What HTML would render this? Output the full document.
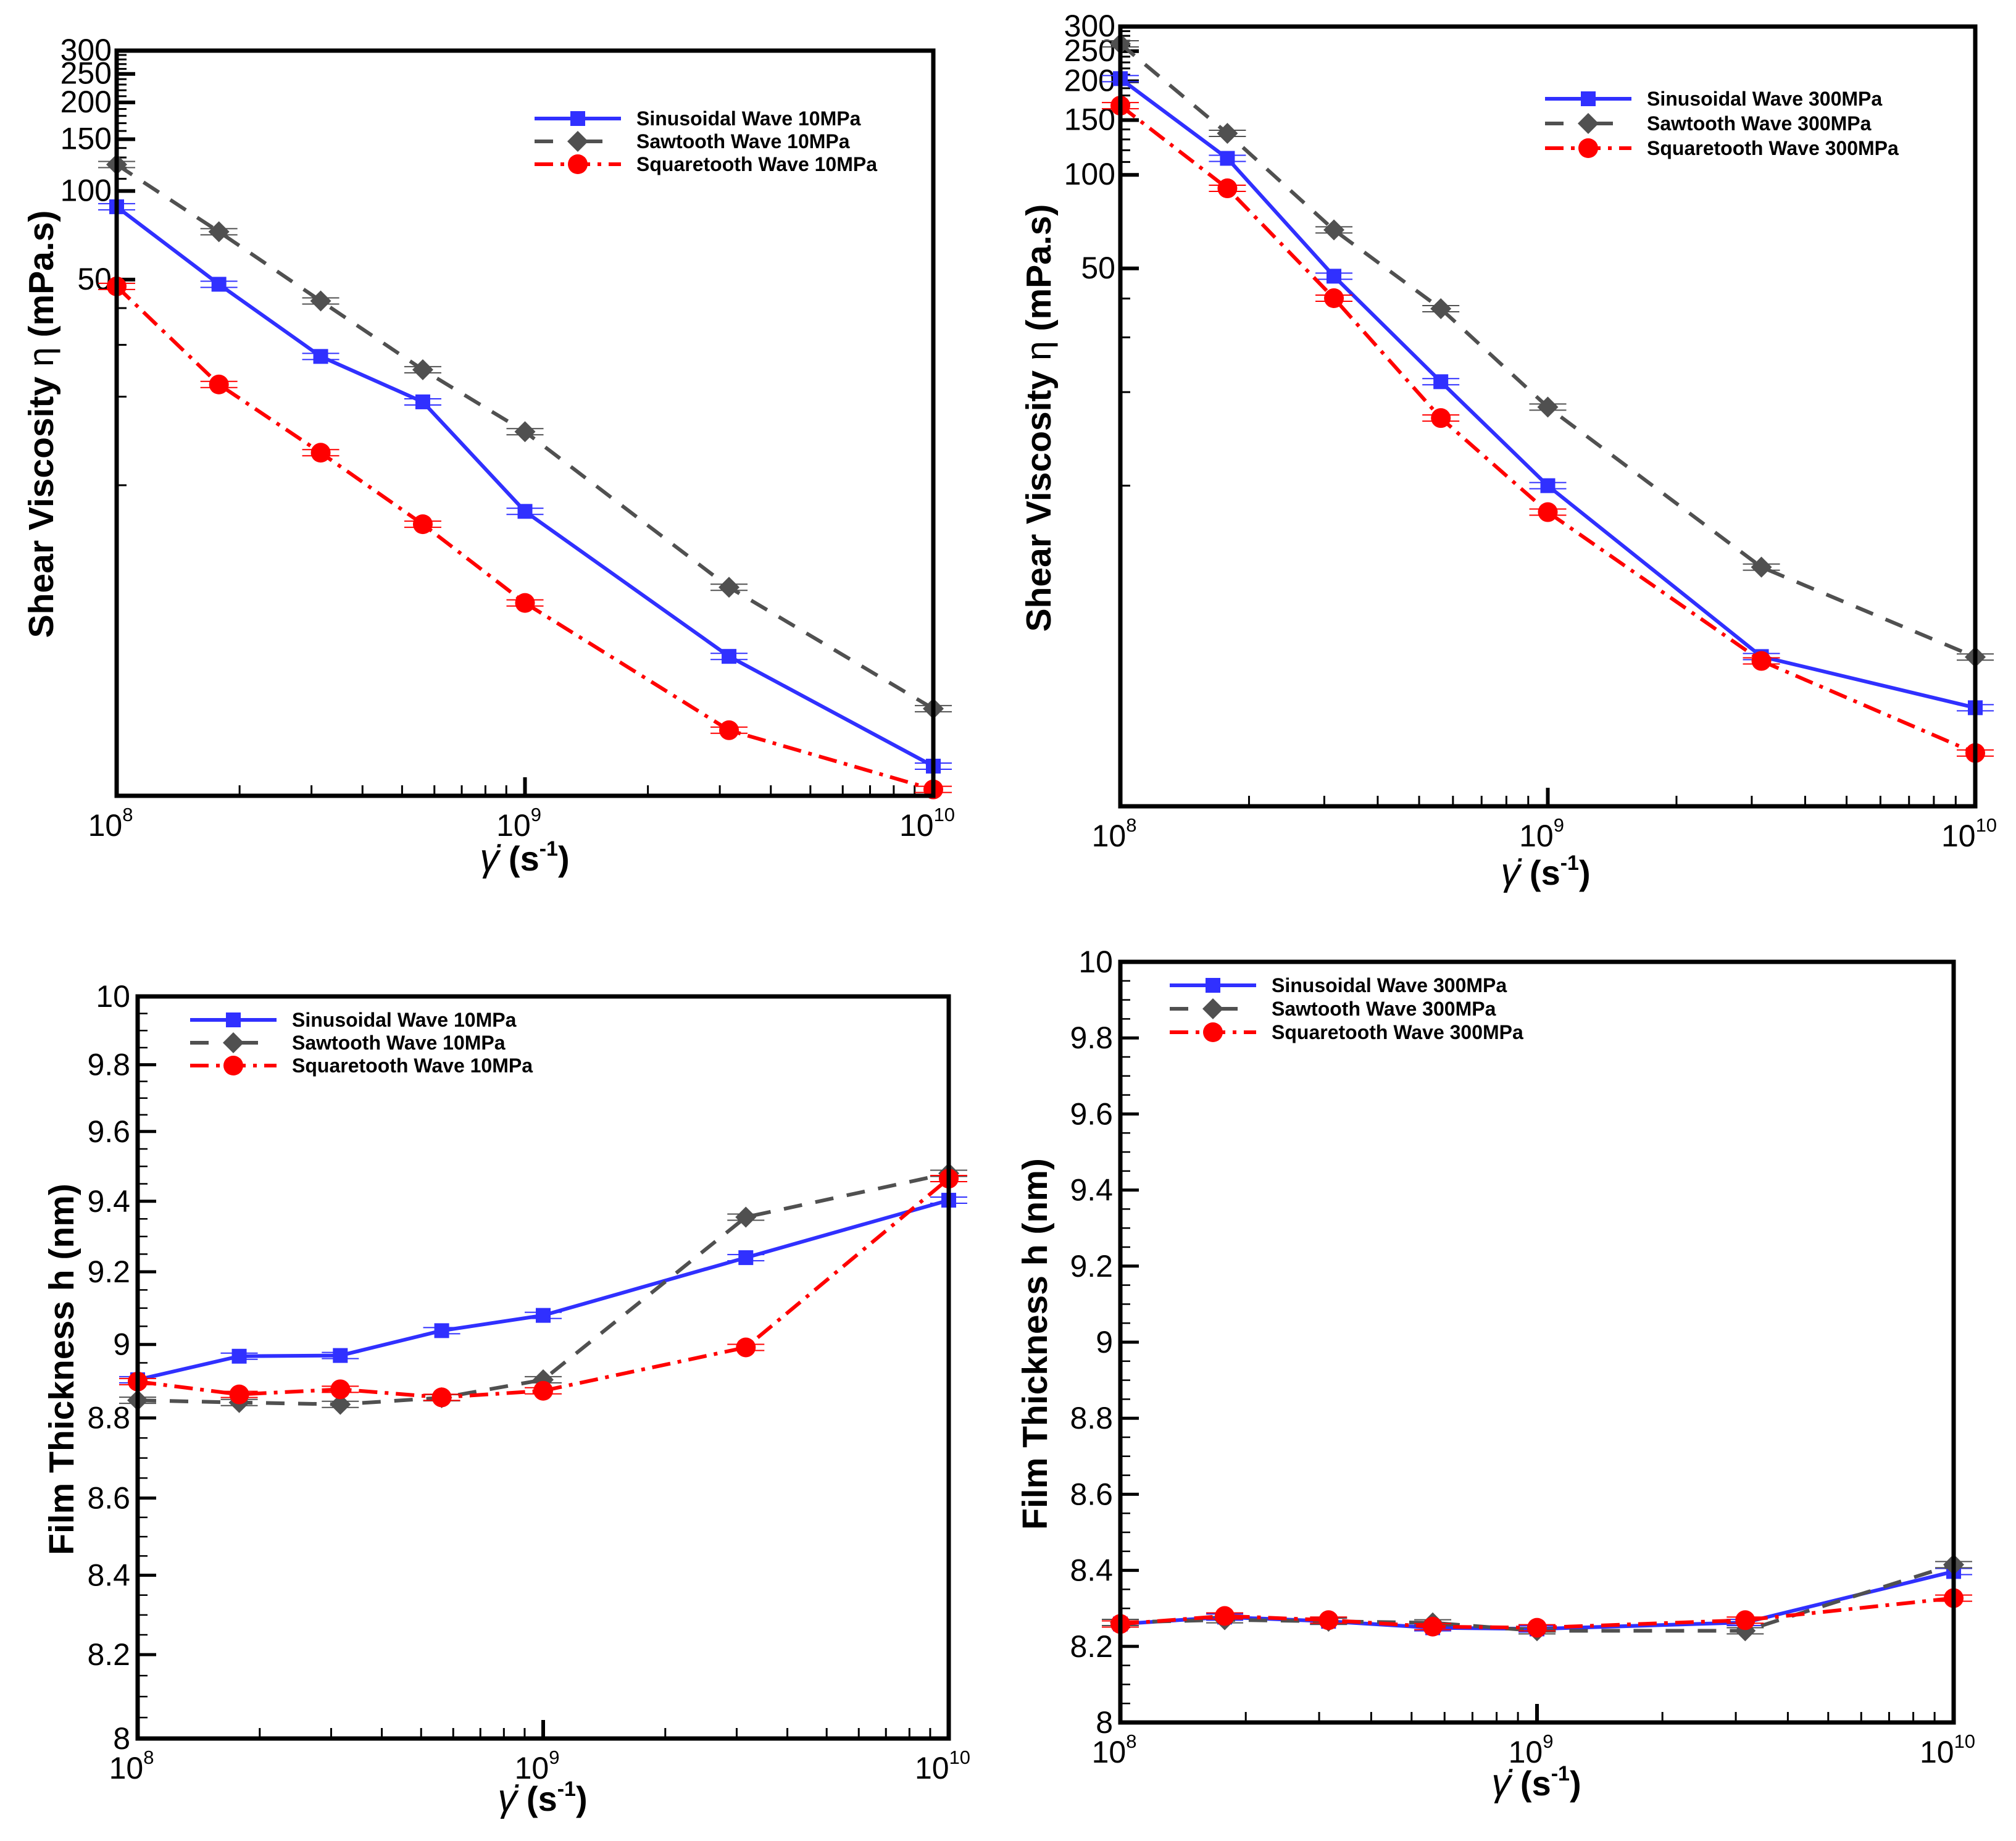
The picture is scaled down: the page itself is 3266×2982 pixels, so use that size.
<!DOCTYPE html>
<html><head><meta charset="utf-8">
<style>
html,body{margin:0;padding:0;background:#fff;}
svg{display:block;}
text{font-family:"Liberation Sans",Arial,sans-serif;}
</style></head>
<body>
<svg id="fig" xmlns="http://www.w3.org/2000/svg" width="3266" height="2982" viewBox="0 0 3266 2982">
<rect width="3266" height="2982" fill="#fff"/>
</svg>
<script>
// ---- data ----
const xRates = [1e8, 1.78e8, 3.16e8, 5.62e8, 1e9, 3.16e9, 1e10];
const visc10Sin = [88.4, 48.2, 27.4, 19.2, 8.15, 2.62, 1.11];
const visc10Saw = [123, 72.7, 42.3, 24.7, 15.2, 4.5, 1.74];
const visc10Sq  = [47.4, 22.0, 12.9, 7.37, 3.98, 1.47, 0.925];
const visc300Sin = [204, 113, 47.2, 21.6, 10.0, 2.82, 1.93];
const visc300Saw = [264, 136, 66.5, 37.1, 17.9, 5.47, 2.81];
const visc300Sq  = [167, 90.5, 40.1, 16.5, 8.22, 2.73, 1.38];
const film10Sin = [8.904, 8.968, 8.97, 9.038, 9.08, 9.24, 9.403];
const film10Saw = [8.848, 8.842, 8.837, 8.855, 8.904, 9.355, 9.48];
const film10Sq  = [8.899, 8.864, 8.878, 8.856, 8.874, 8.992, 9.465];
const film300Sin = [8.259, 8.277, 8.266, 8.249, 8.246, 8.263, 8.397];
const film300Saw = [8.263, 8.27, 8.266, 8.262, 8.241, 8.241, 8.415];
const film300Sq  = [8.259, 8.28, 8.269, 8.252, 8.249, 8.269, 8.327];
const viscTickLabels = [50, 100, 150, 200, 250, 300];
const viscMinorTicks = [10, 20, 30, 40, 110, 120, 130, 140, 160, 170, 180, 190, 210, 220, 230, 240, 260, 270, 280, 290];
const filmTickLabels = ["8","8.2","8.4","8.6","8.8","9","9.2","9.4","9.6","9.8","10"];
const xExponents = [8, 9, 10];

const NS = "http://www.w3.org/2000/svg";
const svg = document.getElementById('fig');
function mk(tag, attrs, parent){
  const e = document.createElementNS(NS, tag);
  for (const k in attrs) e.setAttribute(k, attrs[k]);
  (parent||svg).appendChild(e);
  return e;
}
const BLUE = "#3030ff", GRAY = "#505050", RED = "#ff0000";

function drawPanel(p){
  const g = mk('g', {});
  
  
  const X = v => p.x0 + (Math.log10(v) - 8) / 2 * (p.x1 - p.x0);
  let Y;
  if (p.log) {
    const l0 = Math.log10(p.ymin), l1 = Math.log10(p.ymax);
    Y = v => p.y1 - (Math.log10(v) - l0) / (l1 - l0) * (p.y1 - p.y0);
  } else if (p.warp) {
    // piecewise-linear axis warp (fraction of frame height per 0.2 step, bottom->top)
    Y = v => {
      let t = (v - p.ymin) / 0.2;
      let i = Math.max(0, Math.min(p.warp.length - 2, Math.floor(t)));
      const f = p.warp[i] + (t - i) * (p.warp[i+1] - p.warp[i]);
      return p.y1 - f * (p.y1 - p.y0);
    };
  } else {
    Y = v => p.y1 - (v - p.ymin) / (p.ymax - p.ymin) * (p.y1 - p.y0);
  }
  // x ticks
  for (let d = 8; d < 10; d++) for (let m = 2; m <= 9; m++) {
    const xx = X(m * Math.pow(10, d));
    const t = mk('line', {x1:xx, x2:xx, y1:p.y1, y2:p.y1-17, stroke:'#000','stroke-width':3}, g);
    
    
  }
  xExponents.forEach(e => {
    const xx = X(Math.pow(10, e));
    const t = mk('line', {x1:xx, x2:xx, y1:p.y1, y2:p.y1-30, stroke:'#000','stroke-width':6}, g);
    
    
    const tx = mk('text', {x:xx-10, y:p.y1+65, 'font-size':50, 'text-anchor':'middle'}, g);
    
    
    tx.appendChild(document.createTextNode('10'));
    const sp = mk('tspan', {dy:-24, 'font-size':31}, tx);
    sp.textContent = String(e);
  });
  // y ticks
  if (p.log) {
    viscMinorTicks.forEach(v => {
      if (v < p.ymin || v > p.ymax) return;
      const yy = Y(v);
      const t = mk('line', {x1:p.x0, x2:p.x0+16, y1:yy, y2:yy, stroke:'#000','stroke-width':3}, g);
      
      
    });
    viscTickLabels.forEach(v => {
      const yy = Y(v);
      const t = mk('line', {x1:p.x0, x2:p.x0+30, y1:yy, y2:yy, stroke:'#000','stroke-width':6}, g);
      
      
      const tx = mk('text', {x:p.x0-8, y:yy+16, 'font-size':50, 'text-anchor':'end'}, g);
      
      
      tx.textContent = String(v);
    });
  } else {
    for (let i = 0; i <= 40; i++) {
      const v = p.ymin + i * 0.05;
      const yy = Y(v);
      const major = i % 4 === 0;
      const t = mk('line', {x1:p.x0, x2:p.x0+(major?30:16), y1:yy, y2:yy, stroke:'#000','stroke-width':major?5:2.5}, g);
      
      
    }
    filmTickLabels.forEach(s => {
      const yy = Y(parseFloat(s));
      const tx = mk('text', {x:p.x0-12, y:yy+17, 'font-size':50, 'text-anchor':'end'}, g);
      
      
      tx.textContent = s;
    });
  }
  // series
  const series = [
    {vals:p.sin, color:BLUE, dash:'none', marker:'square', label:'Sinusoidal Wave '+p.press, name:'sinusoidal'},
    {vals:p.saw, color:GRAY, dash:'30 22', marker:'diamond', label:'Sawtooth Wave '+p.press, name:'sawtooth'},
    {vals:p.sq, color:RED, dash:'30 12 6 12', marker:'circle', label:'Squaretooth Wave '+p.press, name:'squaretooth'}
  ];
  function marker(type, cx, cy, color, parent, nm){
    let m;
    if (type === 'square') m = mk('rect', {x:cx-12, y:cy-12, width:24, height:24, fill:color}, parent);
    else if (type === 'diamond') m = mk('polygon', {points:`${cx},${cy-17} ${cx+17},${cy} ${cx},${cy+17} ${cx-17},${cy}`, fill:color}, parent);
    else m = mk('circle', {cx:cx, cy:cy, r:16, fill:color}, parent);
    
    
  }
  series.forEach(s => {
    const sg = mk('g', {}, g);
    
    
    const pts = xRates.map((x, i) => X(x) + ',' + Y(s.vals[i])).join(' ');
    const pl = mk('polyline', {points:pts, fill:'none', stroke:s.color, 'stroke-width':6, 'stroke-dasharray':s.dash}, sg);
    
    
    xRates.forEach((x, i) => {
      const cx = X(x), cy = Y(s.vals[i]);
      [-5, 5].forEach(o => {
        const eb = mk('line', {x1:cx-30, x2:cx+30, y1:cy+o, y2:cy+o, stroke:s.color, 'stroke-width':2}, sg);
        
        
      });
      marker(s.marker, cx, cy, s.color, sg, s.name + '-point');
    });
  });
  // frame
  const fr = mk('rect', {x:p.x0, y:p.y0, width:p.x1-p.x0, height:p.y1-p.y0, fill:'none', stroke:'#000', 'stroke-width':7}, g);
  
  
  // legend
  const lg = mk('g', {}, g);
  
  
  series.forEach((s, i) => {
    const ly = p.ly + i * p.lstep;
    const eg = mk('g', {}, lg);
    
    
    mk('line', {x1:p.lx, x2:p.lx+140, y1:ly, y2:ly, stroke:s.color, 'stroke-width':6, 'stroke-dasharray':s.dash==='none'?'none':(s.marker==='diamond'?'30 50':'30 12 6 12')}, eg);
    marker(s.marker, p.lx+70, ly, s.color, eg, 'legend-marker');
    const t = mk('text', {x:p.lx+165, y:ly+11, 'font-size':32, 'font-weight':'bold'}, eg);
    t.textContent = s.label;
  });
  // y title
  const yt = mk('text', {x:0, y:0, 'font-size':57, 'font-weight':'bold', 'text-anchor':'middle', 'dominant-baseline':'central', transform:`translate(${p.ytx},${p.yty}) rotate(-90)`}, g);
  
  
  if (p.log) {
    yt.appendChild(document.createTextNode('Shear Viscosity '));
    const eta = mk('tspan', {'font-weight':'normal'}, yt); eta.textContent = 'η';
    yt.appendChild(document.createTextNode(' (mPa.s)'));
  } else {
    yt.textContent = 'Film Thickness h (nm)';
  }
  // x title
  const xt = mk('text', {x:p.xtx, y:p.xty, 'font-size':56, 'font-weight':'bold', 'text-anchor':'middle'}, g);
  
  
  const gm = mk('tspan', {'font-weight':'normal','font-style':'italic','font-size':62}, xt); gm.textContent = 'γ̇';
  xt.appendChild(document.createTextNode(' (s'));
  const sup = mk('tspan', {dy:-24, 'font-size':34}, xt); sup.textContent = '-1';
  const cl = mk('tspan', {dy:24}, xt); cl.textContent = ')';
}

drawPanel({name:'viscosity-10mpa-chart', log:true, x0:189, x1:1512, y0:82, y1:1289, ymin:0.88, ymax:300,
  sin:visc10Sin, saw:visc10Saw, sq:visc10Sq, press:'10MPa',
  lx:866, ly:192, lstep:37, ytx:67, yty:687, xtx:850, xty:1410});
drawPanel({name:'viscosity-300mpa-chart', log:true, x0:1815, x1:3200, y0:43, y1:1306, ymin:0.93, ymax:300,
  sin:visc300Sin, saw:visc300Saw, sq:visc300Sq, press:'300MPa',
  lx:2503, ly:160, lstep:40, ytx:1683, yty:677, xtx:2504, xty:1433});
drawPanel({name:'film-10mpa-chart', log:false, x0:223, x1:1537, y0:1614, y1:2816, ymin:8, ymax:10,
  warp:[0, 0.113, 0.220, 0.324, 0.432, 0.531, 0.530+0.099, 0.724, 0.818, 0.908, 1.0],
  sin:film10Sin, saw:film10Saw, sq:film10Sq, press:'10MPa',
  lx:308, ly:1652, lstep:37, ytx:100, yty:2218, xtx:879, xty:2933});
drawPanel({name:'film-300mpa-chart', log:false, x0:1815, x1:3165, y0:1558, y1:2790, ymin:8, ymax:10,
  sin:film300Sin, saw:film300Saw, sq:film300Sq, press:'300MPa',
  lx:1895, ly:1596, lstep:38, ytx:1677, yty:2177, xtx:2489, xty:2908});
</script>
</body></html>
